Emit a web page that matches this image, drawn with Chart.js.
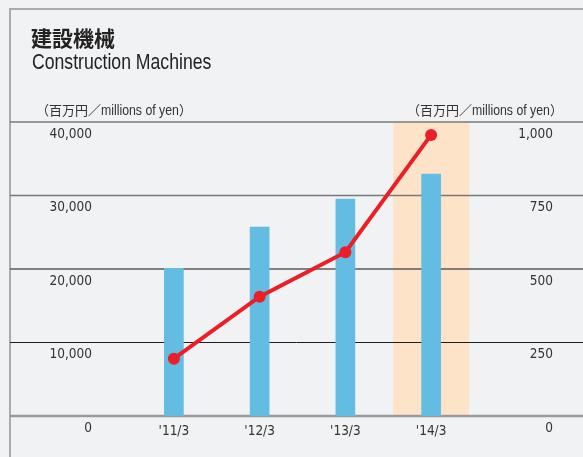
<!DOCTYPE html>
<html>
<head>
<meta charset="utf-8">
<script src="https://cdn.jsdelivr.net/npm/chart.js@4"></script>
<style>
  html, body { margin: 0; padding: 0; background: #f1f2f4; }
  #wrap { position: relative; width: 583px; height: 457px; overflow: hidden; background: #f1f2f4; }
  #frame { position: absolute; left: 9px; top: 8px; right: -4px; bottom: -4px; border-top: 2px solid #ababab; border-left: 2px solid #ababab; }
  canvas { position: absolute; left: 0; top: 0; }
  .t { position: absolute; white-space: nowrap; color: #222; }
  #jt { left: 31px; top: 27px; font: bold 21px/1 "Noto Sans CJK JP", sans-serif; }
  #et { left: 32px; top: 52px; font: 21.5px/1 "Liberation Sans", Arial, sans-serif; transform: scaleX(0.82); transform-origin: 0 0; }
  .u { top: 102px; line-height: 16px; color: #333; }
  .u .cj { font-family: "Noto Sans CJK JP", sans-serif; font-size: 13px; }
  .u .lt { display: inline-block; font-family: "Liberation Sans", Arial, sans-serif; font-size: 15px; transform: scaleX(0.82); transform-origin: 0 50%; margin-right: -17.1px; }
  #ul { left: 36px; }
  #ur { right: 20px; }
</style>
</head>
<body>
<div id="wrap">
  <div id="frame"></div>
  <canvas id="c" width="583" height="457"></canvas>
  <div class="t" id="jt">建設機械</div>
  <div class="t" id="et">Construction Machines</div>
  <div class="t u" id="ul"><span class="cj">（百万円／</span><span class="lt">millions of yen</span><span class="cj">）</span></div>
  <div class="t u" id="ur"><span class="cj">（百万円／</span><span class="lt">millions of yen</span><span class="cj">）</span></div>
</div>
<script>
const categories = ["'11/3", "'12/3", "'13/3", "'14/3"];
const barValues = [20100, 25700, 29500, 32900];
const lineValues = [195, 406, 557, 956];
const leftTicks = [0, 10000, 20000, 30000, 40000];
const rightTicks = [0, 250, 500, 750, 1000];
const highlightIndex = 3;

const tickFont = { family: "'DejaVu Sans Condensed', sans-serif", size: 13.5 };
const tickColor = '#333';

const gridStyle = {
  0: { color: '#9a9a9a', width: 2.5 },
  10000: { color: '#1e1e1e', width: 1 },
  20000: { color: '#5a5a5a', width: 1.5 },
  30000: { color: '#7a7a7a', width: 1.5 },
  40000: { color: '#7a7a7a', width: 1.5 }
};

const bgPlugin = {
  id: 'bg',
  beforeDatasetsDraw(chart) {
    const { ctx, chartArea, scales } = chart;
    const xs = scales.x, ys = scales.y;
    const step = xs.getPixelForValue(1) - xs.getPixelForValue(0);
    const cx = xs.getPixelForValue(highlightIndex);
    const w = step * 0.887;
    ctx.save();
    ctx.fillStyle = '#fde4c9';
    ctx.fillRect(cx - w / 2, chartArea.top, w, chartArea.bottom - chartArea.top);
    ys.ticks.forEach(t => {
      const y = ys.getPixelForValue(t.value);
      const s = gridStyle[t.value] || { color: '#555', width: 1 };
      ctx.beginPath();
      ctx.strokeStyle = s.color;
      ctx.lineWidth = s.width;
      ctx.moveTo(10, y);
      ctx.lineTo(583, y);
      ctx.stroke();
    });
    ctx.restore();
  }
};

function fixY(width) {
  return function (s) {
    s.width = width;
    s.paddingTop = 8;
    s.paddingBottom = 8;
  };
}

new Chart(document.getElementById('c'), {
  type: 'bar',
  data: {
    labels: categories,
    datasets: [
      {
        type: 'line',
        data: lineValues,
        yAxisID: 'y1',
        borderColor: '#ea1f27',
        backgroundColor: '#ea1f27',
        borderWidth: 4,
        pointRadius: 6,
        pointBackgroundColor: '#ea1f27',
        pointBorderWidth: 0,
        tension: 0,
        order: 0
      },
      {
        type: 'bar',
        data: barValues,
        yAxisID: 'y',
        backgroundColor: '#63bce1',
        barThickness: 19,
        order: 1
      }
    ]
  },
  options: {
    responsive: false,
    animation: false,
    devicePixelRatio: 1,
    layout: { padding: { left: 10, right: 30, top: 122, bottom: 0 } },
    plugins: { legend: { display: false }, tooltip: { enabled: false } },
    scales: {
      x: {
        offset: true,
        grid: { display: false, drawTicks: false },
        border: { display: false },
        ticks: { padding: 7, font: tickFont, color: tickColor },
        afterFit(s) { s.height = 41; }
      },
      y: {
        position: 'left',
        min: 0, max: 40000,
        afterBuildTicks(s) { s.ticks = leftTicks.map(v => ({ value: v })); },
        ticks: {
          padding: 39, labelOffset: 12, font: tickFont, color: tickColor,
          callback: v => v.toLocaleString('en-US')
        },
        grid: { display: false, drawTicks: false },
        border: { display: false },
        afterFit: fixY(121)
      },
      y1: {
        position: 'right',
        min: 0, max: 1000,
        afterBuildTicks(s) { s.ticks = rightTicks.map(v => ({ value: v })); },
        ticks: {
          crossAlign: 'far', labelOffset: 12, font: tickFont, color: tickColor,
          callback: v => v.toLocaleString('en-US')
        },
        grid: { display: false, drawTicks: false },
        border: { display: false },
        afterFit: fixY(79)
      }
    }
  },
  plugins: [bgPlugin]
});
</script>
</body>
</html>
